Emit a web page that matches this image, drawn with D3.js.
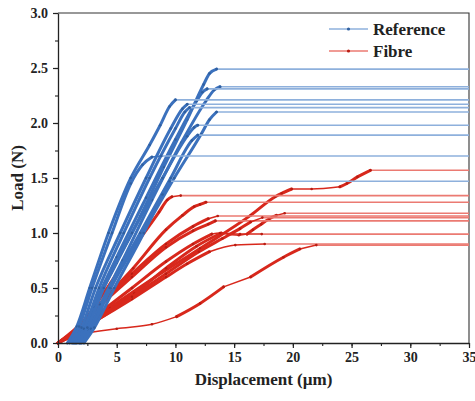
<!DOCTYPE html>
<html>
<head>
<meta charset="utf-8">
<script src="https://cdn.jsdelivr.net/npm/d3@7/dist/d3.min.js"></script>
<style>
  html, body { margin: 0; padding: 0; background: #fff; }
  svg { display: block; }
  text { font-family: "Liberation Serif", "Times New Roman", serif; font-weight: bold; fill: #222; }
</style>
</head>
<body>
<svg id="chart" width="475" height="401"></svg>
<script>
// Load–displacement curves, [displacement (µm), load (N)] pairs.
// Each test holds its final load, drawn as a flat line to the axis end.
const ref1  = [[1.5,0],[2.3,0.12],[3.2,0.35],[5,0.73],[7,1.15],[9,1.6],[11,2.03],[12.4,2.35],[12.9,2.45],[13.5,2.49]];
const ref2  = [[1.8,0],[2.6,0.12],[3.6,0.35],[5.5,0.75],[8,1.3],[10.5,1.82],[12.6,2.2],[13.3,2.3],[13.8,2.33]];
const ref3  = [[1.3,0],[2.1,0.12],[3.0,0.33],[5,0.78],[7.5,1.32],[10,1.85],[11.8,2.2],[12.3,2.28],[12.7,2.31]];
const ref4  = [[0.8,0],[1.6,0.15],[2.7,0.5],[4.3,1.0],[6.2,1.5],[7.8,1.8],[8.7,1.98],[9.5,2.15],[10.0,2.21]];
const ref5  = [[1.2,0],[2.0,0.14],[3.2,0.5],[5.3,1.0],[7.5,1.5],[9.6,1.95],[10.6,2.13],[11.0,2.17]];
const ref6  = [[1.4,0],[2.2,0.13],[3.5,0.5],[5.6,1.0],[7.8,1.5],[10,1.95],[10.8,2.1],[11.2,2.14]];
const ref7  = [[2.0,0],[2.9,0.14],[4.5,0.5],[7.2,1.0],[9.9,1.5],[12.2,1.9],[12.9,2.03],[13.5,2.10]];
const ref8  = [[1.6,0],[2.5,0.14],[3.9,0.5],[6.3,1.0],[8.9,1.5],[11.0,1.88],[11.6,1.96],[11.9,1.98]];
const ref9  = [[1.9,0],[2.8,0.13],[4.4,0.5],[7.0,1.0],[9.6,1.5],[11.4,1.84],[11.9,1.89]];
const ref10 = [[1.0,0],[1.8,0.15],[2.9,0.5],[4.6,1.0],[6.2,1.45],[7.2,1.62],[8.0,1.69],[8.8,1.70]];
const ref11 = [[2.2,0],[3.1,0.14],[4.8,0.5],[7.3,1.0],[8.9,1.35],[9.5,1.47]];

const fib1  = [[0,0],[1,0.06],[2,0.14],[4.4,0.32],[8,0.58],[12.1,0.86],[16.4,1.16],[18.5,1.33],[19.05,1.36],[19.9,1.40],[21.6,1.40],[24.0,1.42],[24.6,1.45],[25.5,1.51],[26.6,1.57]];
const fib2  = [[0,0],[1.2,0.09],[2.4,0.23],[4.5,0.55],[7.0,0.95],[8.6,1.19],[9.3,1.30],[9.7,1.33],[10.45,1.34]];
const fib3  = [[0,0],[1.5,0.12],[3.6,0.36],[6.4,0.68],[9.2,1.03],[10.6,1.16],[11.6,1.24],[12.1,1.26],[12.6,1.28]];
const fib4  = [[0,0],[1.5,0.1],[3.5,0.24],[6.5,0.45],[9.2,0.68],[11.8,0.88],[13.9,1.0],[15.4,0.98],[16.1,0.99],[16.6,1.03],[17.3,1.08],[18.0,1.13],[18.6,1.16],[19.3,1.18]];
const fib5  = [[0,0],[1.5,0.11],[3.5,0.27],[6.3,0.5],[9.2,0.74],[11.5,0.9],[13.1,0.99],[13.8,1.0],[15.5,0.99],[17.35,0.99]];
const fib6  = [[0,0],[1.5,0.13],[3.5,0.35],[6.3,0.63],[9.2,0.9],[11.5,1.06],[12.8,1.13],[13.6,1.155]];
const fib7  = [[0,0],[1.5,0.12],[3.5,0.33],[6.3,0.6],[9.2,0.87],[11.5,1.02],[12.8,1.08],[13.4,1.11]];
const fib8  = [[0,0],[1.5,0.1],[3.5,0.22],[6.3,0.4],[9.2,0.6],[11,0.72],[12.9,0.83],[15.1,0.89],[17.6,0.90]];
const fib9  = [[0,0],[1,0.04],[2.1,0.08],[5,0.13],[8,0.17],[10.1,0.24],[12.1,0.36],[14.1,0.51],[16.4,0.60],[19.2,0.78],[20.6,0.855],[22.0,0.89]];
const fib10 = [[0,0],[1.5,0.09],[3.5,0.22],[6.3,0.42],[9.2,0.63],[12,0.83],[14,0.95],[15.5,1.04],[16.4,1.1],[17.4,1.14]];

const referenceCurves = [ref1, ref2, ref3, ref4, ref5, ref6, ref7, ref8, ref9, ref10, ref11];
const fibreCurves = [fib1, fib2, fib3, fib4, fib5, fib6, fib7, fib8, fib9, fib10];

const seriesNames = ["Reference", "Fibre"];
const xTicks = [0, 5, 10, 15, 20, 25, 30, 35];
const yTicks = [0, 0.5, 1.0, 1.5, 2.0, 2.5, 3.0];
const xMinorTicks = d3.range(0, 35.01, 2.5);
const yMinorTicks = d3.range(0, 3.001, 0.25);

const svg = d3.select("#chart");
const m = { left: 58, right: 469, top: 13, bottom: 343 };

const x = d3.scaleLinear().domain([0, 35]).range([m.left, m.right]);
const y = d3.scaleLinear().domain([0, 3]).range([m.bottom, m.top]);

const colors = {
  Reference: { line: "#3b71bd", hold: "#8eb0dc", dot: "#2f5f9f" },
  Fibre:     { line: "#d8281c", hold: "#eb7a72", dot: "#b81c12" }
};

const smooth = d3.line().x(d => x(d[0])).y(d => y(d[1])).curve(d3.curveMonotoneX);

// Minor ticks
svg.append("g")
  .attr("transform", `translate(0,${m.bottom})`)
  .call(d3.axisBottom(x).tickValues(xMinorTicks).tickSize(3).tickFormat("").tickSizeOuter(0))
  .call(g => g.select(".domain").remove())
  .call(g => g.selectAll("line").attr("stroke", "#222").attr("stroke-width", 1.1));
svg.append("g")
  .attr("transform", `translate(${m.left},0)`)
  .call(d3.axisLeft(y).tickValues(yMinorTicks).tickSize(3).tickFormat("").tickSizeOuter(0))
  .call(g => g.select(".domain").remove())
  .call(g => g.selectAll("line").attr("stroke", "#222").attr("stroke-width", 1.1));

// Frame (top and right)
svg.append("path")
  .attr("d", `M${m.left},${m.top}H${m.right}V${m.bottom}`)
  .attr("fill", "none").attr("stroke", "#333").attr("stroke-width", 1.1);

function drawCurve(pts, c) {
  const g = svg.append("g");
  const last = pts[pts.length - 1];
  // held load after the end of the loading phase
  g.append("line")
    .attr("x1", x(last[0])).attr("x2", x.range()[1])
    .attr("y1", y(last[1])).attr("y2", y(last[1]))
    .attr("stroke", c.hold).attr("stroke-width", 1.6);
  // loading phase: rising stretches are densely sampled (heavy), flat stretches sparse (light)
  const runs = [];
  for (let i = 1; i < pts.length; i++) {
    const rising = (pts[i][1] - pts[i - 1][1]) / (pts[i][0] - pts[i - 1][0]) > 0.04;
    const cur = runs[runs.length - 1];
    if (cur && cur.rising === rising) cur.pts.push(pts[i]);
    else runs.push({ rising, pts: [pts[i - 1], pts[i]] });
  }
  runs.forEach(r => {
    g.append("path")
      .attr("d", smooth(r.pts))
      .attr("fill", "none")
      .attr("stroke", c.line)
      .attr("stroke-width", r.rising ? 3 : 1.5)
      .attr("stroke-linejoin", "round")
      .attr("stroke-linecap", "round");
  });
  g.selectAll("circle").data(pts.slice(1)).join("circle")
    .attr("cx", d => x(d[0])).attr("cy", d => y(d[1]))
    .attr("r", 1.3).attr("fill", c.dot);
}

fibreCurves.forEach(p => drawCurve(p, colors.Fibre));
referenceCurves.forEach(p => drawCurve(p, colors.Reference));

// Major axes
const xAxis = svg.append("g")
  .attr("transform", `translate(0,${m.bottom})`)
  .call(d3.axisBottom(x).tickValues(xTicks).tickSize(5).tickPadding(4).tickSizeOuter(0).tickFormat(d3.format("d")));
const yAxis = svg.append("g")
  .attr("transform", `translate(${m.left},0)`)
  .call(d3.axisLeft(y).tickValues(yTicks).tickSize(5).tickPadding(5).tickSizeOuter(0).tickFormat(d3.format(".1f")));
[xAxis, yAxis].forEach(a => {
  a.select(".domain").attr("stroke", "#222").attr("stroke-width", 1.3);
  a.selectAll(".tick line").attr("stroke", "#222").attr("stroke-width", 1.2);
  a.selectAll(".tick text").attr("font-size", 14).attr("font-family", null).attr("fill", "#222");
});

// Axis titles
svg.append("text")
  .attr("x", (m.left + m.right) / 2).attr("y", 385)
  .attr("text-anchor", "middle").attr("font-size", 17)
  .text("Displacement (µm)");
svg.append("text")
  .attr("transform", `translate(23,${(m.top + m.bottom) / 2}) rotate(-90)`)
  .attr("text-anchor", "middle").attr("font-size", 17)
  .text("Load (N)");

// Legend
const legend = svg.append("g");
seriesNames.forEach((name, i) => {
  const c = colors[name];
  const ly = 29 + i * 22;
  legend.append("line")
    .attr("x1", 329).attr("x2", 368).attr("y1", ly).attr("y2", ly)
    .attr("stroke", c.hold).attr("stroke-width", 1.6);
  legend.append("circle").attr("cx", 348.5).attr("cy", ly).attr("r", 1.6).attr("fill", c.dot);
  legend.append("text")
    .attr("x", 373).attr("y", ly + 6)
    .attr("font-size", 17)
    .text(name);
});
</script>
</body>
</html>
